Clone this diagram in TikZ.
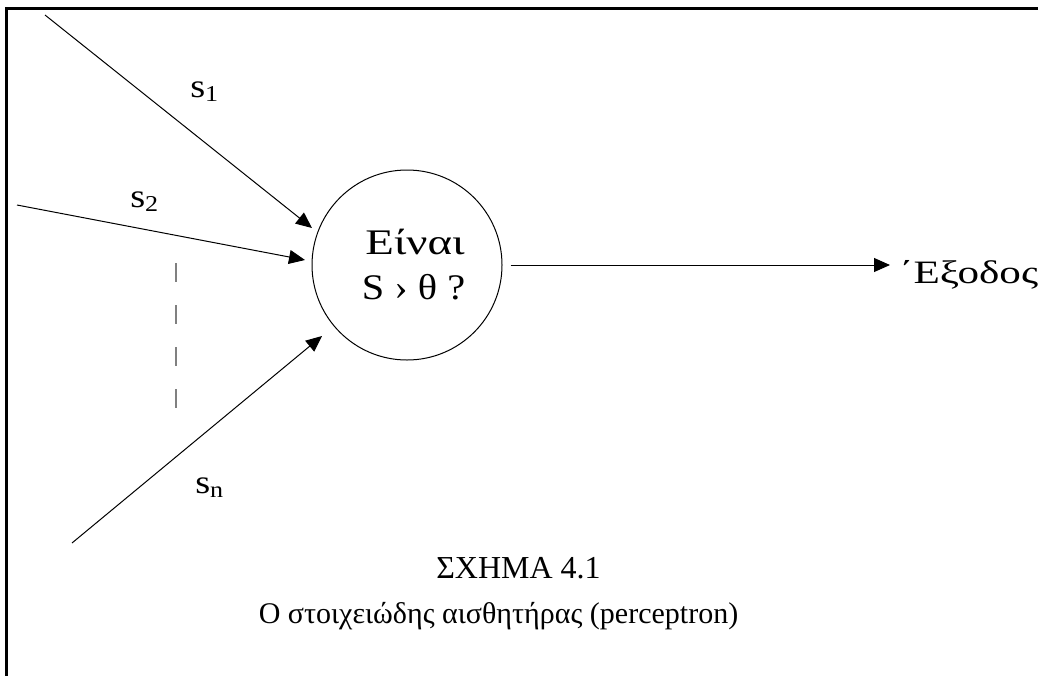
\documentclass[tikz,border=0pt]{standalone}
\usepackage{fontspec}
\setmainfont{Liberation Serif}
\newfontfamily\wideA[FakeStretch=1.3]{Liberation Serif}
\newfontfamily\wideB[FakeStretch=1.12]{Liberation Serif}
\newfontfamily\wideC[FakeStretch=1.32]{Liberation Serif}
\newfontfamily\wideS[FakeStretch=1.15]{Liberation Serif}
\usetikzlibrary{arrows.meta,calc}
\newcommand\lsub[1]{\raisebox{-3.5pt}{\fontsize{17}{17}\selectfont #1}}
\begin{document}
\begin{tikzpicture}[x=0.75pt,y=-0.75pt,
  conn/.style={line width=0.75pt,-{Triangle[length=12pt,width=10.5pt]}},
  lbl/.style={inner sep=0pt,anchor=base west,font=\wideS\fontsize{25}{25}\selectfont},
  big/.style={inner sep=0pt,anchor=base,font=\fontsize{27}{27}\selectfont},
  outtxt/.style={inner sep=0pt,anchor=base west,font=\wideC\fontsize{24.5}{24.5}\selectfont},
  captxt/.style={inner sep=0pt,anchor=base},
  neuron/.style={circle,draw,line width=0.75pt,minimum size=142.5pt,inner sep=0pt}]
\useasboundingbox (0,0) rectangle (1038,675);
\draw[line width=1.6pt] (6.5,700) -- (6.5,8.5) -- (1050,8.5);
% neuron
\node[neuron] (c) at (407,265) {};
\node[big,font=\wideA\fontsize{27}{27}\selectfont] (q1) at (415,254) {Είναι};
\node[big,font=\wideB\fontsize{27}{27}\selectfont] (q2) at (413.5,299) {S › θ ?};
% inputs
\coordinate (a1) at (45,15);
\coordinate (a2) at (17,205);
\coordinate (an) at (72,543);
\coordinate (t1) at ($(c)+(-95,-37)$);
\coordinate (t2) at ($(c)+(-102,-5)$);
\coordinate (tn) at ($(c)+(-85,71)$);
\draw[conn] (a1) -- (t1);
\draw[conn] (a2) -- (t2);
\draw[conn] (an) -- (tn);
\node[lbl] (l1) at (190,97) {s\lsub{1}};
\node[lbl] (l2) at (130,207) {s\lsub{2}};
\node[lbl] (ln) at (195,493) {s\lsub{n}};
% dots
\coordinate (d1) at (176,263);
\coordinate (d2) at (176,408);
\draw[gray,line width=1pt,dash pattern=on 13.9pt off 17.6pt] (d1) -- (d2);
% output
\coordinate (o1) at ($(c.east)+(8,0)$);
\coordinate (o2) at (890,265);
\draw[conn] (o1) -- (o2);
\node[outtxt] (out) at (899,283) {΄Εξοδος};
% caption
\node[captxt,font=\fontsize{24}{24}\selectfont] (cap1) at (518.5,578) {ΣΧΗΜΑ 4.1};
\node[captxt,font=\fontsize{22.5}{22.5}\selectfont] (cap2) at (498.5,623) {Ο στοιχειώδης αισθητήρας (perceptron)};
\end{tikzpicture}
\end{document}
